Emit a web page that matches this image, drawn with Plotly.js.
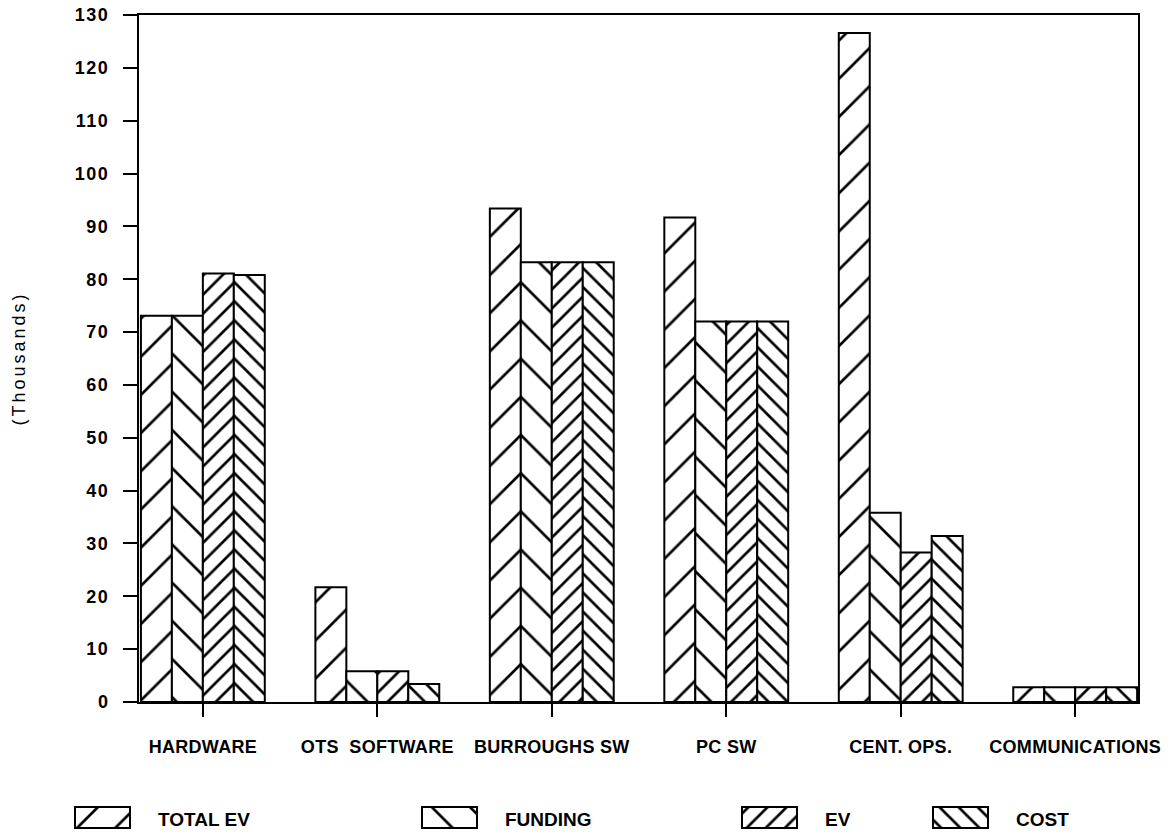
<!DOCTYPE html>
<html>
<head>
<meta charset="utf-8">
<script src="https://cdn.plot.ly/plotly-3.0.1.min.js"></script>
<style>
  html, body { margin: 0; padding: 0; background: #fff; }
  #chart { width: 1172px; height: 835px; }
  .xtick text { letter-spacing: 0.3px; }
  .ytick text { letter-spacing: 1.5px; }
  .ytitle { letter-spacing: 3px; }
</style>
</head>
<body>
<div id="chart"></div>
<script>

// categories and series (values in thousands)
var categories = ['HARDWARE', 'OTS\u00A0\u00A0SOFTWARE', 'BURROUGHS SW', 'PC SW', 'CENT.\u00A0OPS.', 'COMMUNICATIONS'];
var totalEV = [73.1, 21.7, 93.4, 91.7, 126.6, 2.8];
var funding = [73.1, 5.8, 83.2, 72.0, 35.8, 2.8];
var ev      = [81.1, 5.8, 83.2, 72.0, 28.3, 2.8];
var cost    = [80.8, 3.4, 83.2, 72.0, 31.4, 2.8];
var seriesNames = ['TOTAL EV', 'FUNDING', 'EV', 'COST'];

var FONT = 'Liberation Sans, Arial, sans-serif';

function barTrace(name, values, shape, size, solidity) {
	return {
		type: 'bar',
		name: name,
		x: categories,
		y: values,
		marker: {
			color: '#ffffff',
			line: {color: '#000000', width: 2},
			pattern: {shape: shape, size: size, solidity: solidity, fgcolor: '#000000', bgcolor: '#ffffff', fillmode: 'replace'}
		},
		hoverinfo: 'skip'
	};
}

var traces = [
	barTrace(seriesNames[0], totalEV, '/', 27, 0.1),
	barTrace(seriesNames[1], funding, '\\', 27, 0.1),
	barTrace(seriesNames[2], ev, '/', 13.5, 0.2),
	barTrace(seriesNames[3], cost, '\\', 13.5, 0.2)
];

var layout = {
	width: 1172, height: 835,
	margin: {l: 139, r: 34, t: 15, b: 122},
	paper_bgcolor: '#ffffff',
	plot_bgcolor: '#ffffff',
	font: {family: FONT, color: '#000'},
	barmode: 'group',
	bargap: 0.29,
	bargroupgap: 0,
	showlegend: true,
	legend: {
		orientation: 'h', x: 0, y: -0.149, xanchor: 'left', yanchor: 'middle',
		traceorder: 'normal',
		font: {family: FONT, size: 19, weight: 'bold', color: '#000'},
		bgcolor: 'rgba(0,0,0,0)', borderwidth: 0
	},
	xaxis: {
		type: 'category',
		range: [-0.366, 5.36],
		showline: true, linecolor: '#000', linewidth: 2, mirror: true,
		ticks: 'outside', ticklen: 13, tickwidth: 2, tickcolor: '#000',
		ticklabelstandoff: 14,
		showgrid: false, zeroline: false,
		tickfont: {family: FONT, size: 18, weight: 'bold', color: '#000'}
	},
	yaxis: {
		range: [0, 130], dtick: 10, tick0: 0,
		showline: true, linecolor: '#000', linewidth: 2, mirror: true,
		ticks: 'outside', ticklen: 14, tickwidth: 2, tickcolor: '#000',
		ticklabelstandoff: 10,
		showgrid: false, zeroline: false,
		tickfont: {family: FONT, size: 18, weight: 'bold', color: '#000'},
		title: {text: '(Thousands)', font: {family: FONT, size: 18, color: '#000'}, standoff: 45}
	}
};

// legend swatch boxes (page pixels): left edges, top, size; text offset
var swatchLeft = [75, 422, 742, 933];
var swatchTop = 807, swatchW = 55, swatchH = 21, textGap = 28, textBase = 826;

function fixLegend() {
	var bars = document.querySelectorAll('g.trace.bars');
	var items = document.querySelectorAll('g.traces');
	items.forEach(function(item) {
		var text = item.querySelector('text.legendtext');
		var path = item.querySelector('.legendpoints path');
		if (!text || !path) return;
		var i = seriesNames.indexOf(text.textContent.trim());
		if (i < 0) return;
		var scroll = item.closest('.scrollbox');
		if (scroll) scroll.removeAttribute('clip-path');

		// swatch: same hatch as its bars, drawn as a wide box
		var m = path.parentNode.getScreenCTM();
		var x0 = swatchLeft[i] - m.e, y0 = swatchTop - m.f;
		path.removeAttribute('transform');
		path.setAttribute('d', 'M' + x0 + ',' + y0 + 'h' + swatchW + 'v' + swatchH + 'h-' + swatchW + 'Z');
		var barPath = bars[i] && bars[i].querySelector('path');
		if (barPath) path.style.fill = barPath.style.fill;
		path.style.stroke = '#000';
		path.style.strokeWidth = '2px';

		var mt = text.parentNode.getScreenCTM();
		text.setAttribute('x', swatchLeft[i] + swatchW + textGap - mt.e);
		text.setAttribute('y', textBase - mt.f);
		text.setAttribute('text-anchor', 'start');
	});
}

Plotly.newPlot('chart', traces, layout, {displayModeBar: false, staticPlot: true}).then(function(gd) {
	fixLegend();
	setTimeout(fixLegend, 50);
});

</script>
</body>
</html>
